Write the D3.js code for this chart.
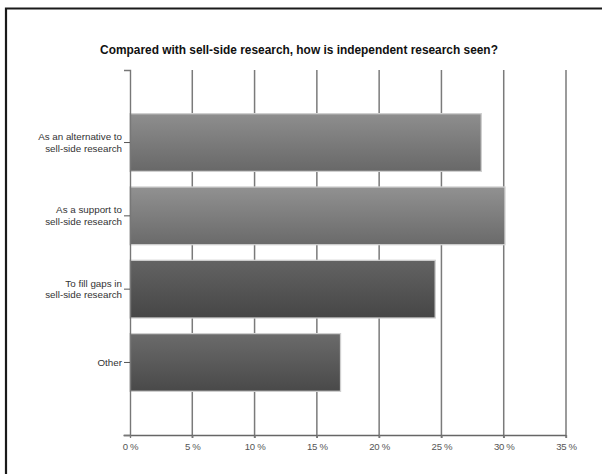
<!DOCTYPE html>
<html>
<head>
<meta charset="utf-8">
<script src="https://cdn.jsdelivr.net/npm/d3@7"></script>
<style>
  html, body { margin: 0; padding: 0; background: #fff; }
  svg { display: block; }
</style>
</head>
<body>
<svg id="chart" width="602" height="474"></svg>
<script>
const title = "Compared with sell-side research, how is independent research seen?";
const categories = [
  ["As an alternative to", "sell-side research"],
  ["As a support to", "sell-side research"],
  ["To fill gaps in", "sell-side research"],
  ["Other"]
];
const values = [28.2, 30.1, 24.5, 16.9];
const tickValues = [0, 5, 10, 15, 20, 25, 30, 35];
const tickLabels = ["0 %", "5 %", "10 %", "15 %", "20 %", "25 %", "30 %", "35 %"];
const barTones = [["#8e8e8e", "#686868"], ["#919191", "#6a6a6a"], ["#636363", "#464646"], ["#6b6b6b", "#494949"]];

(function () {
const svg = d3.select("#chart");
const pL = 130, pR = 566, pT = 70, pB = 435;

// frame
svg.append("path")
  .attr("d", `M6,480V8.5H602`)
  .attr("fill", "none").attr("stroke", "#1a1a1a").attr("stroke-width", 2.2);

// title
svg.append("text")
  .attr("x", 299).attr("y", 54)
  .attr("text-anchor", "middle")
  .attr("font-family", "Liberation Sans, Arial, sans-serif")
  .attr("font-size", 11.9).attr("font-weight", "bold")
  .attr("fill", "#111")
  .text(title);

const x = d3.scaleLinear().domain([0, 35]).range([pL, pR]);
const idx = categories.map((d, i) => i);
const y = d3.scaleBand().domain(idx).range([pT, pB]).paddingInner(0.213).paddingOuter(0.596);

// gradients
const defs = svg.append("defs");
barTones.forEach((t, i) => {
  const g = defs.append("linearGradient").attr("id", "g" + i)
    .attr("x1", 0).attr("y1", 0).attr("x2", 0).attr("y2", 1);
  g.append("stop").attr("offset", "0%").attr("stop-color", t[0]);
  g.append("stop").attr("offset", "100%").attr("stop-color", t[1]);
});

// gridlines
svg.append("g").selectAll("line").data(tickValues.slice(1)).join("line")
  .attr("x1", d => x(d)).attr("x2", d => x(d))
  .attr("y1", pT).attr("y2", pB + 3)
  .attr("stroke", "#7a7a7a").attr("stroke-width", 1.5);

// bars
svg.append("g").selectAll("rect").data(values).join("rect")
  .attr("x", x(0))
  .attr("y", (d, i) => y(i))
  .attr("width", d => x(d) - x(0))
  .attr("height", y.bandwidth())
  .attr("fill", (d, i) => `url(#g${i})`)
  .attr("stroke", "#cfcfcf").attr("stroke-width", 1.3);

// x axis
const xAxis = d3.axisBottom(x).tickValues(tickValues)
  .tickFormat((d, i) => tickLabels[i]).tickSize(3).tickSizeOuter(0).tickPadding(5);
const gx = svg.append("g").attr("transform", `translate(0,${pB})`).call(xAxis);
gx.select(".domain").attr("d", `M${pL - 6.5},0.5H${pR}`).attr("stroke", "#666").attr("stroke-width", 1.4);
gx.selectAll(".tick line").attr("stroke", "#777").attr("stroke-width", 1.3);
gx.selectAll(".tick text")
  .attr("font-family", "Liberation Sans, Arial, sans-serif")
  .attr("font-size", 9.6).attr("fill", "#555").attr("letter-spacing", -0.3);

// y axis
const yAxis = d3.axisLeft(y).tickSize(6).tickSizeOuter(6).tickFormat("");
const gy = svg.append("g").attr("transform", `translate(${pL},0)`).call(yAxis);
gy.select(".domain").attr("stroke", "#777").attr("stroke-width", 1.4);
gy.selectAll(".tick line").attr("stroke", "#555").attr("stroke-width", 1);

// category labels
const lab = svg.append("g").selectAll("text").data(categories).join("text")
  .attr("text-anchor", "end")
  .attr("font-family", "Liberation Sans, Arial, sans-serif")
  .attr("font-size", 9.8).attr("fill", "#333")
  .attr("transform", (d, i) => `translate(${pL - 8},${y(i) + y.bandwidth() / 2})`);
lab.each(function(d) {
  const t = d3.select(this);
  const n = d.length;
  d.forEach((line, j) => {
    t.append("tspan").attr("x", 0)
      .attr("y", (j - (n - 1) / 2) * 11.7 + 3.4)
      .text(line);
  });
});
})();
</script>
</body>
</html>
